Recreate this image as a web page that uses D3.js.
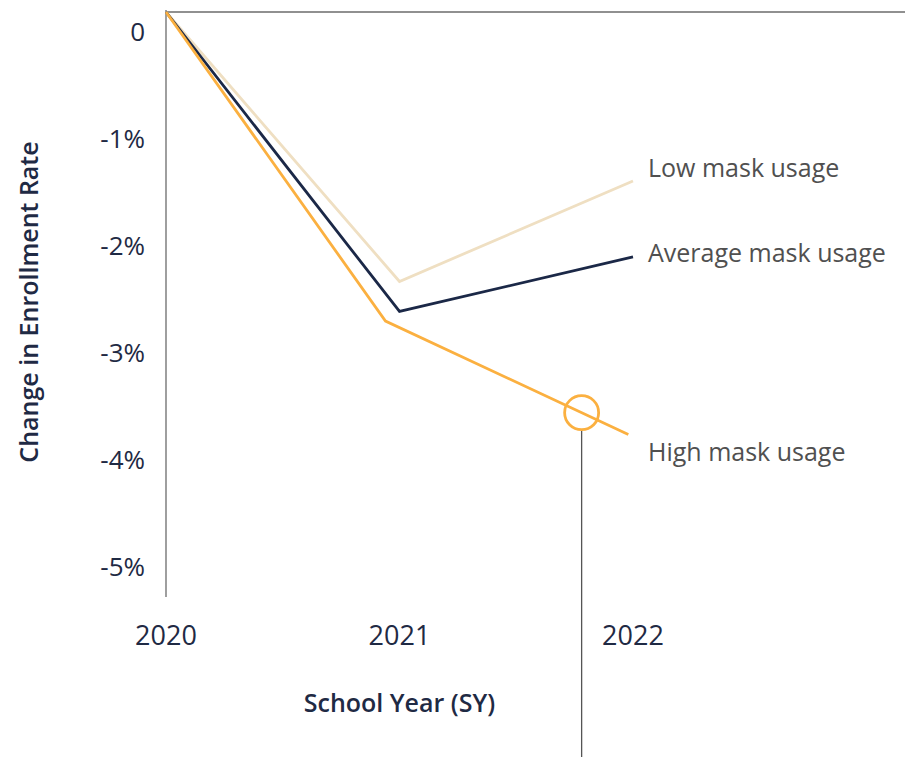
<!DOCTYPE html>
<html><head><meta charset="utf-8">
<script src="https://cdn.jsdelivr.net/npm/d3@7"></script>
<style>body{margin:0;background:#fff;}svg{display:block;}</style>
</head><body>
<svg id="chart" width="912" height="767"></svg>
<script>
// Data (percent change in enrollment rate)
const yearTicks = [2020, 2021, 2022];
const yTicks = [0, -1, -2, -3, -4, -5];
const lowYears = [2020, 2021, 2022];
const lowValues = [0, -2.52, -1.58];
const avgYears = [2020, 2021, 2022];
const avgValues = [0, -2.80, -2.29];
const highYears = [2020, 2020.94, 2021.98];
const highValues = [0, -2.89, -3.95];
const seriesNames = ["Low mask usage", "Average mask usage", "High mask usage"];
const highlightYear = 2021.78;

const svg = d3.select("#chart");
const x = d3.scaleLinear().domain([2020, 2022]).range([166, 633]);
const y = d3.scaleLinear().domain([0, -5.47]).range([12, 597]);

const navy = "#1f2a44";
const gray = "#6b6b6b";
const font = "'Open Sans', sans-serif";

// axes lines
svg.append("line").attr("x1", x(2020)).attr("x2", 905).attr("y1", y(0)).attr("y2", y(0))
  .attr("stroke", gray).attr("stroke-width", 1.3);
svg.append("line").attr("x1", x(2020)).attr("x2", x(2020)).attr("y1", y(0) - 2).attr("y2", y(-5.47))
  .attr("stroke", gray).attr("stroke-width", 1.3);

// y tick labels (drawn slightly below their tick values)
svg.append("g").selectAll("text").data(yTicks).join("text")
  .attr("x", 145).attr("y", d => y(d) + 20).attr("dy", "0.35em")
  .attr("text-anchor", "end")
  .attr("font-family", font).attr("font-size", 26)
  .attr("fill", navy)
  .text(d => d === 0 ? "0" : d + "%");

// x tick labels
svg.append("g").selectAll("text").data(yearTicks).join("text")
  .attr("x", d => x(d)).attr("y", 636).attr("dy", "0.35em")
  .attr("text-anchor", "middle")
  .attr("font-family", font).attr("font-size", 27)
  .attr("fill", navy)
  .text(d => d);

// axis titles
svg.append("text").attr("x", x(2021)).attr("y", 703).attr("dy", "0.35em")
  .attr("text-anchor", "middle").attr("font-family", font)
  .attr("font-weight", 600).attr("font-size", 25).attr("fill", navy)
  .text("School Year (SY)");
svg.append("text").attr("transform", "translate(29,302) rotate(-90)").attr("dy", "0.35em")
  .attr("text-anchor", "middle").attr("font-family", font)
  .attr("font-weight", 600).attr("font-size", 25).attr("fill", navy)
  .text("Change in Enrollment Rate");

const line = d3.line().x(d => x(d[0])).y(d => y(d[1]));
const series = [
  {name: seriesNames[0], xs: lowYears, vs: lowValues, color: "#efdfc2"},
  {name: seriesNames[1], xs: avgYears, vs: avgValues, color: "#1b2847"},
  {name: seriesNames[2], xs: highYears, vs: highValues, color: "#fbb040"}
];

// annotation leader line under circle
const hx = highlightYear;
const hv = d3.scaleLinear().domain(highYears.slice(1)).range(highValues.slice(1))(hx);
svg.append("line").attr("x1", x(hx)).attr("x2", x(hx)).attr("y1", y(hv) + 17).attr("y2", 757)
  .attr("stroke", "#555").attr("stroke-width", 1.3);

series.forEach(s => {
  svg.append("path").datum(s.xs.map((v, i) => [v, s.vs[i]]))
    .attr("d", line).attr("fill", "none").attr("stroke", s.color)
    .attr("stroke-width", 2.8).attr("stroke-linejoin", "miter");
});

svg.append("circle").attr("cx", x(hx)).attr("cy", y(hv)).attr("r", 17)
  .attr("fill", "none").attr("stroke", "#fbb040").attr("stroke-width", 2.8);

// series labels
const labelY = [168, 253, 452];
series.forEach((s, i) => {
  svg.append("text").attr("x", 648).attr("y", labelY[i]).attr("dy", "0.35em")
    .attr("font-family", font).attr("font-size", 25)
    .attr("fill", "#505050").text(s.name);
});
</script>
</body></html>
